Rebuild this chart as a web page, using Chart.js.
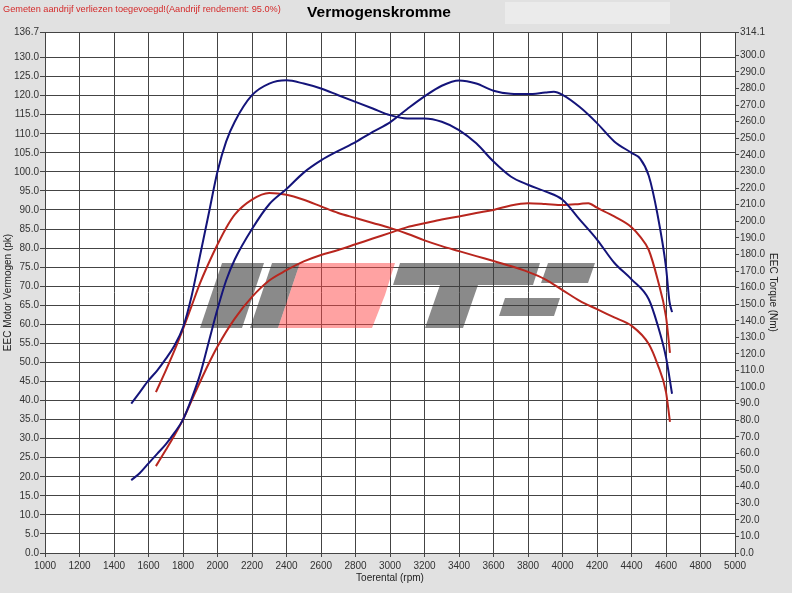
<!DOCTYPE html>
<html>
<head>
<meta charset="utf-8">
<script src="https://cdn.jsdelivr.net/npm/chart.js@4"></script>
<style>
  html, body { margin: 0; padding: 0; background: #e1e1e1; }
  #chartDiv { width: 792px; height: 593px; position: relative; }
</style>
</head>
<body>
<div id="chartDiv"><canvas id="myChart"></canvas></div>
<script>
// Toerental (rpm) en gemeten waarden per curve
const rpmBlauwKoppel = [1500, 1550, 1600, 1650, 1700, 1750, 1800, 1850, 1900, 1950, 2000, 2050, 2100, 2200, 2300, 2400, 2500, 2600, 2700, 2800, 2900, 3000, 3100, 3200, 3300, 3400, 3500, 3600, 3700, 3800, 3900, 4000, 4100, 4200, 4300, 4400, 4500, 4550, 4600, 4635];
const blauwKoppel = [90, 97, 104, 110, 117, 125, 136, 155, 180, 205, 230, 248, 260, 276, 283, 285, 283, 280, 276, 272, 268, 264, 262, 262, 260, 255, 247, 236, 227, 222, 218, 213, 201, 189, 175, 165, 153, 138, 118, 96];

const rpmBlauwVermogen = [1500, 1550, 1600, 1650, 1700, 1750, 1800, 1850, 1900, 1950, 2000, 2050, 2100, 2200, 2300, 2400, 2500, 2600, 2700, 2800, 2900, 3000, 3100, 3200, 3300, 3400, 3500, 3600, 3700, 3800, 3900, 3950, 4000, 4100, 4200, 4300, 4400, 4450, 4500, 4550, 4600, 4620, 4635];
const blauwVermogen = [19.1, 21, 23.5, 26, 28.5, 31.5, 35, 40.5, 47, 55.5, 64, 71.5, 77, 85, 91.5, 95.5, 99.8, 103, 105.5, 107.8, 110.5, 113, 116.5, 119.8, 122.6, 124, 123.2, 121.3, 120.5, 120.4, 120.8, 121, 120.2, 117, 112.8, 108, 105, 103.5, 99, 89, 75, 66, 63.2];

const rpmRoodKoppel = [1643, 1700, 1750, 1800, 1850, 1900, 1950, 2000, 2050, 2100, 2200, 2300, 2400, 2500, 2600, 2700, 2800, 2900, 3000, 3100, 3200, 3300, 3400, 3500, 3600, 3700, 3800, 3900, 4000, 4100, 4200, 4300, 4400, 4500, 4550, 4600, 4623];
const roodKoppel = [97, 110, 122, 135, 149, 163, 175, 186, 196, 204, 213, 217, 216, 213, 209, 205, 202, 199, 196, 192.5, 188.5, 185, 182, 179, 176, 173, 169.5, 165, 158.5, 152, 147, 142, 137, 126, 114, 97, 79];

const rpmRoodVermogen = [1643, 1700, 1750, 1800, 1850, 1900, 1950, 2000, 2100, 2200, 2300, 2400, 2500, 2600, 2700, 2800, 2900, 3000, 3100, 3200, 3300, 3400, 3500, 3600, 3700, 3800, 3900, 4000, 4100, 4150, 4200, 4300, 4400, 4450, 4500, 4550, 4600, 4623];
const roodVermogen = [22.8, 27, 30.8, 35, 40, 45, 49.8, 54.2, 61.5, 67.2, 71.5, 74.2, 76.5, 78.2, 79.5, 81, 82.5, 84, 85.5, 86.5, 87.5, 88.3, 89.2, 90, 91.2, 91.8, 91.6, 91.3, 91.6, 91.8, 90.6, 88.3, 85.5, 83, 79.5, 72, 62, 52.5];

// As-labels
const vermogenTicks = [0, 5, 10, 15, 20, 25, 30, 35, 40, 45, 50, 55, 60, 65, 70, 75, 80, 85, 90, 95, 100, 105, 110, 115, 120, 125, 130, 136.7];
const koppelTicks = [0, 10, 20, 30, 40, 50, 60, 70, 80, 90, 100, 110, 120, 130, 140, 150, 160, 170, 180, 190, 200, 210, 220, 230, 240, 250, 260, 270, 280, 290, 300, 314.1];

function punten(xs, ys) {
  return xs.map((x, i) => ({ x: x, y: ys[i] }));
}

const lettertype = "'Liberation Sans', Arial";

// achtergrond, koptekst en watermerk
const achtergrond = {
  id: "achtergrond",
  beforeDraw(chart) {
    const c = chart.ctx;
    const a = chart.chartArea;
    c.save();
    c.fillStyle = "#e1e1e1";
    c.fillRect(0, 0, chart.width, chart.height);
    c.fillStyle = "#ebebeb";
    c.fillRect(505, 2, 165, 22);
    c.fillStyle = "#ffffff";
    c.fillRect(a.left, a.top, a.right - a.left, a.bottom - a.top);
    c.fillStyle = "#d42a2a";
    c.font = "9.2px " + lettertype;
    c.textBaseline = "middle";
    c.fillText("Gemeten aandrijf verliezen toegevoegd!(Aandrijf rendement: 95.0%)", 3, 9);
    c.fillStyle = "#000";
    c.font = "bold 15.5px " + lettertype;
    c.textAlign = "center";
    c.fillText("Vermogenskromme", 379, 13);
    c.restore();
  },
  beforeDatasetsDraw(chart) {
    const c = chart.ctx;
    c.save();
    const poly = (pts, kleur) => {
      c.fillStyle = kleur;
      c.beginPath();
      c.moveTo(pts[0][0], pts[0][1]);
      for (let i = 1; i < pts.length; i++) c.lineTo(pts[i][0], pts[i][1]);
      c.closePath();
      c.fill();
    };
    const grijs = "rgba(60,60,60,0.6)";
    const roze = "rgba(255,70,70,0.5)";
    poly([[222, 263], [264, 263], [242, 328], [200, 328]], grijs);
    poly([[272, 263], [300, 263], [278, 328], [250, 328]], grijs);
    poly([[300, 263], [395, 263], [385, 295], [372, 328], [278, 328]], roze);
    poly([[400, 263], [540, 263], [533, 285], [393, 285]], grijs);
    poly([[440, 285], [478, 285], [463, 328], [425, 328]], grijs);
    poly([[548, 263], [595, 263], [588, 283], [541, 283]], grijs);
    poly([[505, 298], [560, 298], [554, 316], [499, 316]], grijs);
    c.restore();
  }
};

const ctx = document.getElementById("myChart");

new Chart(ctx, {
  type: "line",
  data: {
    datasets: [
      {
        label: "Koppel",
        data: punten(rpmBlauwKoppel, blauwKoppel),
        yAxisID: "y2",
        borderColor: "#14147a",
      },
      {
        label: "Vermogen",
        data: punten(rpmBlauwVermogen, blauwVermogen),
        yAxisID: "y",
        borderColor: "#14147a",
      },
      {
        label: "Koppel gemeten",
        data: punten(rpmRoodKoppel, roodKoppel),
        yAxisID: "y2",
        borderColor: "#b8261e",
      },
      {
        label: "Vermogen gemeten",
        data: punten(rpmRoodVermogen, roodVermogen),
        yAxisID: "y",
        borderColor: "#b8261e",
      },
    ],
  },
  options: {
    responsive: true,
    maintainAspectRatio: false,
    animation: false,
    devicePixelRatio: 1,
    layout: { padding: { top: 32, left: 0, right: 0, bottom: 0 } },
    elements: {
      point: { radius: 0 },
      line: { borderWidth: 2, cubicInterpolationMode: "monotone", fill: false },
    },
    plugins: {
      legend: { display: false },
      tooltip: { enabled: false },
    },
    scales: {
      x: {
        type: "linear",
        min: 1000,
        max: 5000,
        ticks: { stepSize: 200, color: "#333", font: { size: 10, family: lettertype }, padding: 3, maxRotation: 0, callback: v => String(v) },
        grid: { color: "#444", lineWidth: 1, tickLength: 4 },
        border: { color: "#444" },
        title: { display: true, text: "Toerental (rpm)", color: "#222", font: { size: 10, family: lettertype }, padding: { top: 0, bottom: 9 } },
        afterFit(scale) { scale.height = 40; },
      },
      y: {
        position: "left",
        min: 0,
        max: 136.7,
        afterBuildTicks(scale) { scale.ticks = vermogenTicks.map(v => ({ value: v })); },
        ticks: { autoSkip: false, color: "#333", font: { size: 10, family: lettertype }, padding: 1, callback: v => Number(v).toFixed(1) },
        grid: { color: "#444", lineWidth: 1, tickLength: 5 },
        border: { color: "#444" },
        title: { display: true, text: "EEC Motor Vermogen (pk)", color: "#222", font: { size: 10, family: lettertype }, padding: { top: 2, bottom: 0 } },
        afterFit(scale) { scale.width = 45; },
      },
      y2: {
        position: "right",
        min: 0,
        max: 314.1,
        afterBuildTicks(scale) { scale.ticks = koppelTicks.map(v => ({ value: v })); },
        ticks: { autoSkip: false, color: "#333", font: { size: 10, family: lettertype }, padding: 1, callback: v => Number(v).toFixed(1) },
        grid: { drawOnChartArea: false, color: "#444", tickLength: 4 },
        border: { color: "#444" },
        title: { display: true, text: "EEC Torque (Nm)", color: "#222", font: { size: 10, family: lettertype }, padding: { top: 13, bottom: 0 } },
        afterFit(scale) { scale.width = 57; },
      },
    },
  },
  plugins: [achtergrond],
});
</script>
</body>
</html>
